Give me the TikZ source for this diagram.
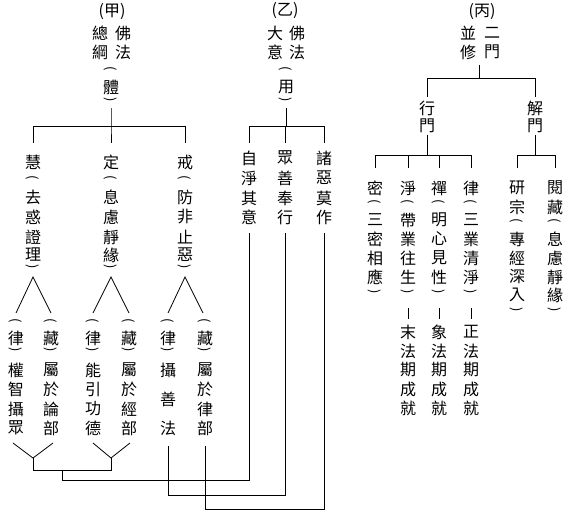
\documentclass[tikz,border=0pt]{standalone}
\usepackage{fontspec}
\newfontfamily\cjk{Noto Sans CJK TC}
\newcommand\vcol[3]{\foreach \yy/\cc [count=\i] in {#3} {\node[ch] (#1\i) at (#2,\yy) {\cc};}}
\newcommand\pl{{\fontsize{13}{13}\selectfont\rotatebox[origin=c]{-90}{(}}}
\newcommand\pr{{\fontsize{13}{13}\selectfont\rotatebox[origin=c]{-90}{)}}}
\begin{document}
\begin{tikzpicture}[x=1pt,y=-1pt,
  ch/.style={font=\cjk\fontsize{16}{16}\selectfont, inner sep=0pt},
  ln/.style={line width=0.8pt, line join=miter}]
\useasboundingbox[fill=white] (0,0) rectangle (581,516);

% ---------- (甲) ----------
\node[ch] (jia) at (112,12) {(甲)};
\node[ch] (jia1) at (100,33) {總};
\node[ch] (jia2) at (123,33) {佛};
\node[ch] (jia3) at (100,52) {綱};
\node[ch] (jia4) at (123,52) {法};
\vcol{ti}{111}{70/\pl,87/體,101/\pr}
\coordinate (jaTop) at (111,108);
\coordinate (jaBar) at (111,126);
\coordinate (jaL) at (33,126);
\coordinate (jaR) at (185,126);
\coordinate (jaLd) at (33,143);
\coordinate (jaMd) at (111,143);
\coordinate (jaRd) at (185,143);
\draw[ln] (jaTop) -- (jaBar) -- (jaMd);
\draw[ln] (jaLd) -- (jaL) -- (jaR) -- (jaRd);

\vcol{hui}{33}{162/慧,179/\pl,197/去,217/惑,237/證,255/理,268/\pr}
\vcol{ding}{111}{162/定,179/\pl,197/息,217/慮,237/靜,255/緣,268/\pr}
\vcol{jie}{185}{162/戒,179/\pl,197/防,217/非,237/止,255/惡,268/\pr}

% carets
\coordinate (ca1) at (33,277);  \coordinate (ca1l) at (16,313);  \coordinate (ca1r) at (51,313);
\coordinate (ca2) at (111,277); \coordinate (ca2l) at (93,313);  \coordinate (ca2r) at (129,313);
\coordinate (ca3) at (185,277); \coordinate (ca3l) at (168,313); \coordinate (ca3r) at (203,313);
\draw[ln] (ca1l) -- (ca1) -- (ca1r);
\draw[ln] (ca2l) -- (ca2) -- (ca2r);
\draw[ln] (ca3l) -- (ca3) -- (ca3r);

\vcol{sa}{16}{322/\pl,338/律,351/\pr,370/權,389/智,409/攝,428/眾}
\vcol{sb}{51}{322/\pl,338/藏,351/\pr,370/屬,389/於,409/論,428/部}
\vcol{sc}{93}{322/\pl,338/律,351/\pr,370/能,389/引,409/功,428/德}
\vcol{sd}{129}{322/\pl,338/藏,351/\pr,370/屬,389/於,409/經,428/部}
\vcol{se}{168}{322/\pl,338/律,351/\pr,370/攝,399/善,428/法}
\vcol{sf}{205}{322/\pl,338/藏,351/\pr,370/屬,389/於,409/律,428/部}

% bottom V's and routing
\coordinate (v1l) at (13,443); \coordinate (v1) at (33,458); \coordinate (v1r) at (53,443);
\coordinate (v2l) at (93,443); \coordinate (v2) at (111,458); \coordinate (v2r) at (130,443);
\coordinate (v1b) at (33,470); \coordinate (v2b) at (111,470);
\draw[ln] (v1l) -- (v1) -- (v1r);
\draw[ln] (v2l) -- (v2) -- (v2r);
\draw[ln] (v1) -- (v1b) -- (v2b) -- (v2);
\coordinate (r1a) at (62,470); \coordinate (r1b) at (62,480);
\coordinate (r1c) at (249,480); \coordinate (r1d) at (249,233);
\draw[ln] (r1a) -- (r1b) -- (r1c) -- (r1d);
\coordinate (r2a) at (168,446); \coordinate (r2b) at (168,495);
\coordinate (r2c) at (285,495); \coordinate (r2d) at (285,233);
\draw[ln] (r2a) -- (r2b) -- (r2c) -- (r2d);
\coordinate (r3a) at (205,446); \coordinate (r3b) at (205,509);
\coordinate (r3c) at (324,509); \coordinate (r3d) at (324,233);
\draw[ln] (r3a) -- (r3b) -- (r3c) -- (r3d);

% ---------- (乙) ----------
\node[ch] (yi) at (285,11) {(乙)};
\node[ch] (yi1) at (275,33) {大};
\node[ch] (yi2) at (297,33) {佛};
\node[ch] (yi3) at (275,52) {意};
\node[ch] (yi4) at (297,52) {法};
\vcol{yong}{286}{70/\pl,87/用,101/\pr}
\coordinate (yiTop) at (286,108);
\coordinate (yiBar) at (286,126);
\coordinate (yiL) at (249,126);
\coordinate (yiR) at (324,126);
\coordinate (yiLd) at (249,143);
\coordinate (yiM) at (285,126);
\coordinate (yiMd) at (285,143);
\coordinate (yiRd) at (324,143);
\draw[ln] (yiTop) -- (yiBar);
\draw[ln] (yiLd) -- (yiL) -- (yiR) -- (yiRd);
\draw[ln] (yiM) -- (yiMd);

\vcol{za}{249}{158/自,178/淨,198/其,217/意}
\vcol{zb}{285}{158/眾,178/善,198/奉,217/行}
\vcol{zc}{324}{158/諸,178/惡,198/莫,217/作}

% ---------- (丙) ----------
\node[ch] (bing) at (482,12) {(丙)};
\node[ch] (bing1) at (468,33) {並};
\node[ch] (bing2) at (492,33) {二};
\node[ch] (bing3) at (468,52) {修};
\node[ch] (bing4) at (492,52) {門};
\coordinate (biTop) at (479,65);
\coordinate (biBar) at (479,78);
\coordinate (biL) at (427,78);
\coordinate (biR) at (535,78);
\coordinate (biLd) at (427,97);
\coordinate (biRd) at (535,97);
\draw[ln] (biTop) -- (biBar);
\draw[ln] (biLd) -- (biL) -- (biR) -- (biRd);

\vcol{xing}{427}{108/行,126/門}
\vcol{jiem}{535}{108/解,126/門}

\coordinate (xTop) at (427,135); \coordinate (xBar) at (427,155);
\coordinate (xL) at (375,155); \coordinate (xR) at (471,155);
\coordinate (xd1) at (375,168); \coordinate (xd2) at (408,168);
\coordinate (xd3) at (439,168); \coordinate (xd4) at (471,168);
\coordinate (xb2) at (408,155); \coordinate (xb3) at (439,155);
\draw[ln] (xTop) -- (xBar);
\draw[ln] (xd1) -- (xL) -- (xR) -- (xd4);
\draw[ln] (xb2) -- (xd2);
\draw[ln] (xb3) -- (xd3);

\coordinate (jTop) at (535,135); \coordinate (jBar) at (535,155);
\coordinate (jL) at (517,155); \coordinate (jR) at (555,155);
\coordinate (jd1) at (517,168); \coordinate (jd2) at (555,168);
\draw[ln] (jTop) -- (jBar);
\draw[ln] (jd1) -- (jL) -- (jR) -- (jd2);

\vcol{mi}{375}{188/密,203/\pl,220/三,239/密,258/相,277/應,293/\pr}
\vcol{jing}{408}{188/淨,203/\pl,220/帶,239/業,258/往,277/生,293/\pr,332/末,351/法,370/期,389/成,408/就}
\vcol{chan}{439}{188/禪,203/\pl,220/明,239/心,258/見,277/性,293/\pr,332/象,351/法,370/期,389/成,408/就}
\vcol{lv}{471}{188/律,203/\pl,220/三,239/業,258/清,277/淨,293/\pr,332/正,351/法,370/期,389/成,408/就}
\foreach \xx/\nm in {408/jl, 439/cl, 471/ll} {
  \coordinate (\nm a) at (\xx,308);
  \coordinate (\nm b) at (\xx,319);
  \draw[ln] (\nm a) -- (\nm b);
}
\vcol{yan}{517}{188/研,207/宗,222/\pl,239/專,258/經,277/深,295/入,311/\pr}
\vcol{yue}{555}{188/閱,207/藏,222/\pl,239/息,258/慮,277/靜,295/緣,311/\pr}
\end{tikzpicture}
\end{document}
